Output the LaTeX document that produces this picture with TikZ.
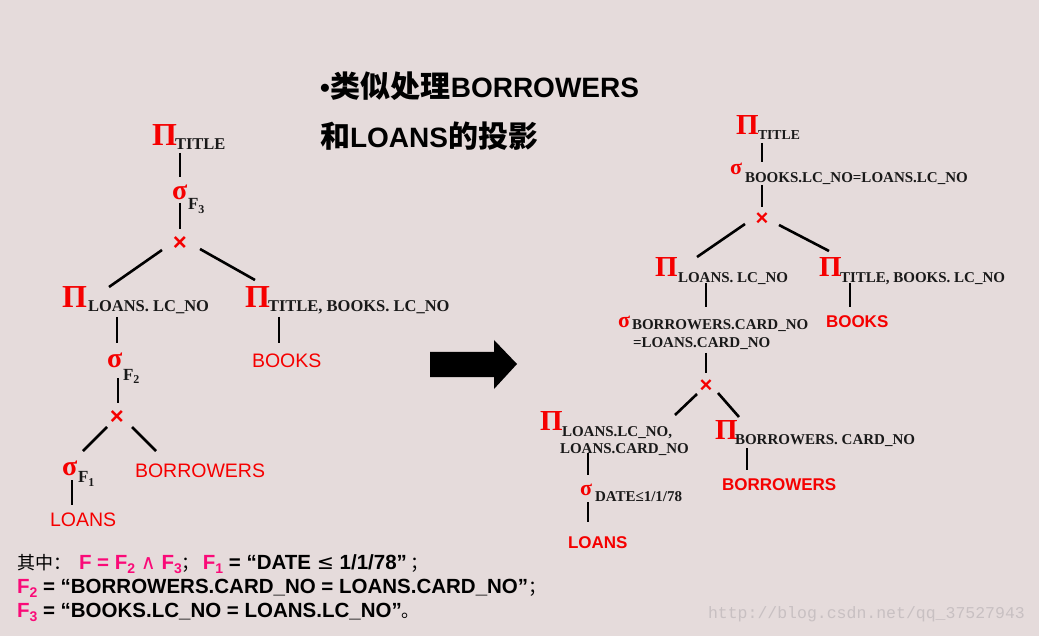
\documentclass[tikz,border=0pt]{standalone}
\usepackage{graphicx}
\usepackage{fontspec}
\setmainfont{Liberation Serif}
\newfontfamily\arial{Liberation Sans}
\newfontfamily\cjk{Noto Sans CJK SC}
\newfontfamily\dejavu{DejaVu Sans}
\newfontfamily\wmfont{Liberation Mono}
\usetikzlibrary{calc}
\definecolor{bg}{RGB}{229,219,219}
\definecolor{ink}{RGB}{25,25,25}
\definecolor{redx}{RGB}{245,0,0}
\definecolor{mag}{RGB}{250,10,120}
\definecolor{wm}{RGB}{200,192,194}
\newcommand\fsb[1]{\raisebox{-4pt}{\fontsize{12}{12}\selectfont #1}}
\newcommand\fsm[1]{\raisebox{-4.5pt}{\fontsize{14}{14}\selectfont #1}}
\newcommand\cjkt[1]{{\cjk\bfseries\fontsize{30}{30}\selectfont #1}}
\newcommand\cjkn[1]{{\cjk\mdseries\fontsize{18}{18}\selectfont #1}}
\tikzset{
  txt/.style={inner sep=0pt, outer sep=0pt, anchor=base west},
  pibig/.style={txt, text=redx, font=\fontsize{32}{32}\selectfont\bfseries},
  pismall/.style={txt, text=redx, font=\fontsize{29}{29}\selectfont\bfseries},
  sigbig/.style={txt, text=redx, font=\fontsize{28}{28}\selectfont\bfseries},
  sigsmall/.style={txt, text=redx, font=\fontsize{22}{22}\selectfont\bfseries},
  subL/.style={txt, text=ink, font=\fontsize{16.5}{16.5}\selectfont\bfseries},
  subR/.style={txt, text=ink, font=\fontsize{15}{15}\selectfont\bfseries},
  relL/.style={txt, text=redx, font=\arial\fontsize{19.5}{19.5}\selectfont},
  relR/.style={txt, text=redx, font=\arial\bfseries\fontsize{17}{17}\selectfont},
  crossL/.style={inner sep=0pt, text=redx, font=\arial\bfseries\fontsize{24}{24}\selectfont},
  crossR/.style={inner sep=0pt, text=redx, font=\arial\bfseries\fontsize{22}{22}\selectfont},
  edge/.style={line width=2.6pt, black},
  note/.style={txt, text=black, font=\arial\bfseries\fontsize{20.5}{20.5}\selectfont},
  title/.style={txt, text=black, font=\arial\bfseries\fontsize{28}{28}\selectfont},
}
\begin{document}
\begin{tikzpicture}[x=1pt,y=-1pt]
\fill[bg] (0,0) rectangle (1039,636);
\useasboundingbox (0,0) rectangle (1039,636);

% title
\node[title] (title1) at (320,98) {•\hspace{1pt}\cjkt{类似处理}BORROWERS};
\node[title] (title2) at (320,148) {\cjkt{和}LOANS\cjkt{的投影}};

% ---------------- left tree ----------------
\node[pibig] (lp1) at (152,146) {Π};
\node[subL] (lp1s) at (175,150) {TITLE};
\node[sigbig] (ls3) at (172,200) {σ};
\node[subL, font=\fontsize{17}{17}\selectfont\bfseries] (ls3s) at (188,210) {F\fsb{3}};
\node[crossL] (lx1) at (180,244) {×};
\node[pibig] (lp2) at (62,308) {Π};
\node[subL] (lp2s) at (88,312) {LOANS. LC\_NO};
\node[pibig] (lp3) at (245,308) {Π};
\node[subL] (lp3s) at (268,312) {TITLE, BOOKS. LC\_NO};
\node[relL] (lbooks) at (252,367) {BOOKS};
\node[sigbig] (ls2) at (107,367) {σ};
\node[subL, font=\fontsize{17}{17}\selectfont\bfseries] (ls2s) at (123,380) {F\fsb{2}};
\node[crossL] (lx2) at (117,418) {×};
\node[sigbig] (ls1) at (62,475) {σ};
\node[subL, font=\fontsize{17}{17}\selectfont\bfseries] (ls1s) at (78,482) {F\fsb{1}};
\node[relL] (lborr) at (135,477) {BORROWERS};
\node[relL] (lloans) at (50,526) {LOANS};

\draw[edge] ($(lp1.base west)+(28,7)$) -- ($(ls3.base west)+(8,-23)$);
\draw[edge] ($(ls3.base west)+(8,3)$) -- ($(lx1.center)+(0,-15)$);
\draw[edge] ($(lx1.center)+(-18,6)$) -- ($(lp2.base west)+(47,-21)$);
\draw[edge] ($(lx1.center)+(20,5)$) -- ($(lp3.base west)+(10,-28)$);
\draw[edge] ($(lp2.base west)+(55,9)$) -- ($(ls2.base west)+(10,-24)$);
\draw[edge] ($(lp3.base west)+(34,9)$) -- ($(lbooks.base west)+(27,-24)$);
\draw[edge] ($(ls2.base west)+(11,11)$) -- ($(lx2.center)+(1,-15)$);
\draw[edge] ($(lx2.center)+(-10,9)$) -- ($(ls1.base west)+(21,-24)$);
\draw[edge] ($(lx2.center)+(15,9)$) -- ($(lborr.base west)+(21,-26)$);
\draw[edge] ($(ls1.base west)+(10,5)$) -- ($(lloans.base west)+(22,-21)$);

% arrow
\fill[black] (430,352) -- (494,352) -- (494,340) -- (517,364) -- (494,389) -- (494,377) -- (430,377) -- cycle;

% ---------------- right tree ----------------
\node[pismall] (rp1) at (736,135) {Π};
\node[subR, font=\fontsize{13.7}{13.7}\selectfont\bfseries] (rp1s) at (758,140) {TITLE};
\node[sigsmall] (rs1) at (730,175) {σ};
\node[subR] (rs1s) at (745,183) {BOOKS.LC\_NO=LOANS.LC\_NO};
\node[crossR] (rx1) at (762,219) {×};
\node[pismall] (rp2) at (655,277) {Π};
\node[subR] (rp2s) at (678,283) {LOANS. LC\_NO};
\node[pismall] (rp3) at (819,277) {Π};
\node[subR] (rp3s) at (840,283) {TITLE, BOOKS. LC\_NO};
\node[relR] (rbooks) at (826,327) {BOOKS};
\node[sigsmall] (rs2) at (618,327) {σ};
\node[subR] (rs2a) at (632,330) {BORROWERS.CARD\_NO};
\node[subR] (rs2b) at (633,348) {=LOANS.CARD\_NO};
\node[crossR] (rx2) at (706,386) {×};
\node[pismall] (rp4) at (540,430) {Π};
\node[subR] (rp4a) at (562,436) {LOANS.LC\_NO,};
\node[subR] (rp4b) at (560,453) {LOANS.CARD\_NO};
\node[pismall] (rp5) at (715,439) {Π};
\node[subR] (rp5s) at (735,444) {BORROWERS. CARD\_NO};
\node[relR] (rborr) at (722,490) {BORROWERS};
\node[sigsmall] (rs3) at (580,495) {σ};
\node[subR] (rs3s) at (595,501) {DATE≤1/1/78};
\node[relR] (rloans) at (568,548) {LOANS};

\draw[edge] ($(rp1.base west)+(26,8)$) -- ($(rs1.base west)+(32,-13)$);
\draw[edge] ($(rs1.base west)+(32,10)$) -- ($(rx1.center)+(0,-12)$);
\draw[edge] ($(rx1.center)+(-17,5)$) -- ($(rp2.base west)+(42,-20)$);
\draw[edge] ($(rx1.center)+(17,6)$) -- ($(rp3.base west)+(10,-26)$);
\draw[edge] ($(rp2.base west)+(51,6)$) -- ($(rs2.base west)+(88,-20)$);
\draw[edge] ($(rp3.base west)+(31,6)$) -- ($(rbooks.base west)+(24,-20)$);
\draw[edge] ($(rs2.base west)+(88,26)$) -- ($(rx2.center)+(0,-13)$);
\draw[edge] ($(rx2.center)+(-9,8)$) -- ($(rp4.base west)+(135,-15)$);
\draw[edge] ($(rx2.center)+(12,7)$) -- ($(rp5.base west)+(24,-22)$);
\draw[edge] ($(rp4.base west)+(48,23)$) -- ($(rs3.base west)+(8,-20)$);
\draw[edge] ($(rp5.base west)+(32,9)$) -- ($(rborr.base west)+(25,-20)$);
\draw[edge] ($(rs3.base west)+(8,7)$) -- ($(rloans.base west)+(20,-26)$);

% ---------------- notes ----------------
\node[note] (note1) at (17,569)
  {\cjkn{其中：}\hspace{8pt}\textcolor{mag}{F = F\fsm{2} {\dejavu\mdseries ∧} F\fsm{3}}\cjkn{；}\hspace{3pt}\textcolor{mag}{F\fsm{1}} = “DATE {\dejavu\mdseries ≤} 1/1/78”\hspace{4pt}\cjkn{；}};
\node[note] (note2) at (17,593)
  {\textcolor{mag}{F\fsm{2}} = “BORROWERS.CARD\_NO = LOANS.CARD\_NO”\cjkn{；}};
\node[note] (note3) at (17,617)
  {\textcolor{mag}{F\fsm{3}} = “BOOKS.LC\_NO = LOANS.LC\_NO”\cjkn{。}};

\node[txt, text=wm, font=\wmfont\fontsize{16.5}{16.5}\selectfont] (wmk) at (708,618) {http://blog.csdn.net/qq\_37527943};
\end{tikzpicture}
\end{document}
